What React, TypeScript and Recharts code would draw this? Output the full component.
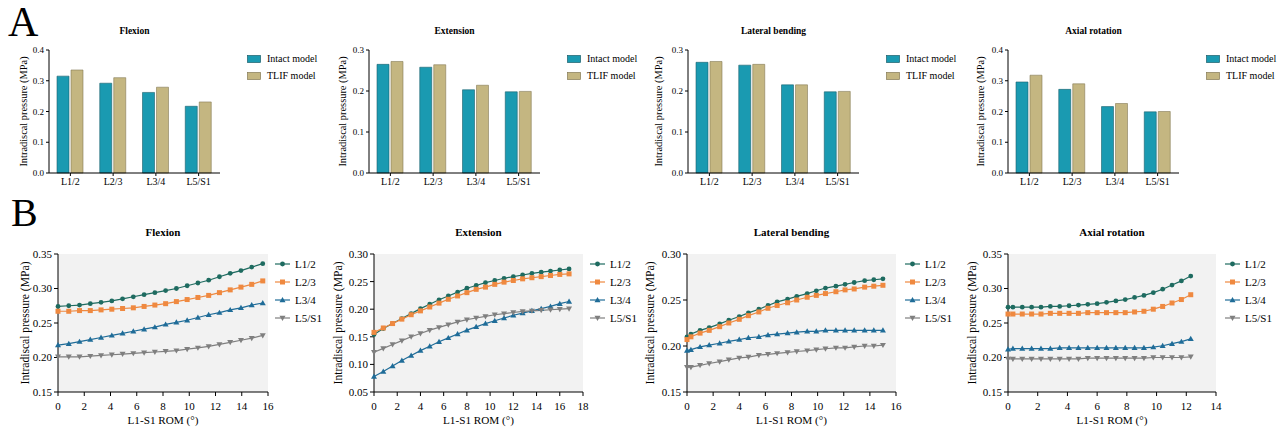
import React from "react";
import { Bar, BarChart, CartesianGrid, Legend, Line, LineChart, XAxis, YAxis } from "recharts";

const serif = '"Liberation Serif", "Times New Roman", serif';

// ---- A: bar charts ----
const levels = ["L1/2", "L2/3", "L3/4", "L5/S1"];

const flexionIntact = [0.315, 0.292, 0.262, 0.217];
const flexionTlif = [0.335, 0.31, 0.279, 0.231];
const extensionIntact = [0.265, 0.258, 0.203, 0.198];
const extensionTlif = [0.272, 0.264, 0.214, 0.199];
const lateralIntact = [0.27, 0.263, 0.215, 0.198];
const lateralTlif = [0.272, 0.265, 0.215, 0.199];
const axialIntact = [0.296, 0.272, 0.216, 0.199];
const axialTlif = [0.318, 0.29, 0.226, 0.2];

const barTicks04 = [0, 0.1, 0.2, 0.3, 0.4];
const barTicks03 = [0, 0.1, 0.2, 0.3];

// ---- B: line charts ----
const flexionRom = [0, 0.82, 1.64, 2.46, 3.28, 4.1, 4.92, 5.74, 6.56, 7.38, 8.2, 9.02, 9.84, 10.66, 11.48, 12.3, 13.12, 13.94, 14.76, 15.6];
const flexionL12 = [0.274, 0.275, 0.276, 0.278, 0.28, 0.282, 0.285, 0.288, 0.291, 0.294, 0.297, 0.3, 0.304, 0.308, 0.312, 0.317, 0.322, 0.326, 0.331, 0.336];
const flexionL23 = [0.267, 0.267, 0.268, 0.268, 0.269, 0.27, 0.271, 0.272, 0.274, 0.276, 0.278, 0.281, 0.284, 0.287, 0.29, 0.294, 0.298, 0.302, 0.306, 0.311];
const flexionL34 = [0.218, 0.22, 0.223, 0.226, 0.229, 0.232, 0.235, 0.238, 0.241, 0.244, 0.248, 0.251, 0.254, 0.258, 0.262, 0.265, 0.269, 0.272, 0.276, 0.279];
const flexionL5S1 = [0.201, 0.201, 0.201, 0.202, 0.203, 0.204, 0.205, 0.206, 0.207, 0.208, 0.209, 0.21, 0.212, 0.214, 0.216, 0.219, 0.222, 0.225, 0.228, 0.232];

const extensionRom = [0, 0.8, 1.6, 2.4, 3.2, 4, 4.8, 5.6, 6.4, 7.2, 8, 8.8, 9.6, 10.4, 11.2, 12, 12.8, 13.6, 14.4, 15.2, 16, 16.8];
const extensionL12 = [0.154, 0.165, 0.174, 0.183, 0.192, 0.201, 0.209, 0.217, 0.224, 0.231, 0.238, 0.243, 0.248, 0.252, 0.256, 0.259, 0.262, 0.265, 0.267, 0.269, 0.271, 0.273];
const extensionL23 = [0.158, 0.166, 0.174, 0.182, 0.19, 0.197, 0.204, 0.211, 0.218, 0.224, 0.23, 0.236, 0.24, 0.245, 0.249, 0.252, 0.255, 0.257, 0.259, 0.261, 0.263, 0.264];
const extensionL34 = [0.078, 0.087, 0.097, 0.107, 0.116, 0.125, 0.133, 0.141, 0.148, 0.155, 0.162, 0.168, 0.174, 0.179, 0.184, 0.189, 0.193, 0.197, 0.201, 0.205, 0.21, 0.214];
const extensionL5S1 = [0.122, 0.129, 0.136, 0.143, 0.15, 0.156, 0.162, 0.167, 0.172, 0.177, 0.181, 0.184, 0.187, 0.19, 0.192, 0.194, 0.196, 0.197, 0.198, 0.199, 0.2, 0.201];

const lateralRom = [0, 0.3, 1.0, 1.7, 2.5, 3.2, 4.0, 4.7, 5.5, 6.2, 6.9, 7.7, 8.4, 9.2, 9.9, 10.6, 11.4, 12.1, 12.8, 13.6, 14.3, 15.0];
const lateralL12 = [0.21, 0.213, 0.217, 0.22, 0.224, 0.228, 0.232, 0.236, 0.24, 0.244, 0.248, 0.251, 0.254, 0.257, 0.26, 0.263, 0.265, 0.267, 0.269, 0.271, 0.272, 0.273];
const lateralL23 = [0.207, 0.21, 0.214, 0.217, 0.221, 0.225, 0.229, 0.233, 0.237, 0.241, 0.244, 0.247, 0.25, 0.253, 0.255, 0.257, 0.259, 0.261, 0.262, 0.264, 0.265, 0.266];
const lateralL34 = [0.195, 0.196, 0.199, 0.201, 0.203, 0.205, 0.207, 0.209, 0.21, 0.212, 0.213, 0.214, 0.215, 0.216, 0.216, 0.217, 0.217, 0.217, 0.217, 0.217, 0.217, 0.217];
const lateralL5S1 = [0.177, 0.177, 0.179, 0.181, 0.183, 0.185, 0.187, 0.188, 0.19, 0.191, 0.192, 0.193, 0.194, 0.195, 0.196, 0.197, 0.198, 0.198, 0.199, 0.2, 0.2, 0.201];

const axialRom = [0, 0.33, 0.96, 1.59, 2.22, 2.85, 3.48, 4.11, 4.74, 5.37, 6.0, 6.63, 7.26, 7.89, 8.52, 9.15, 9.78, 10.41, 11.04, 11.67, 12.3];
const axialL12 = [0.273, 0.273, 0.273, 0.273, 0.273, 0.274, 0.274, 0.275, 0.276, 0.277, 0.278, 0.28, 0.282, 0.284, 0.287, 0.29, 0.294, 0.299, 0.305, 0.311, 0.318];
const axialL23 = [0.263, 0.263, 0.263, 0.263, 0.263, 0.264, 0.264, 0.264, 0.264, 0.265, 0.265, 0.265, 0.265, 0.265, 0.266, 0.267, 0.27, 0.274, 0.279, 0.284, 0.291];
const axialL34 = [0.212, 0.213, 0.213, 0.213, 0.213, 0.213, 0.214, 0.214, 0.214, 0.214, 0.214, 0.214, 0.214, 0.214, 0.214, 0.214, 0.215, 0.217, 0.22, 0.223, 0.227];
const axialL5S1 = [0.198, 0.198, 0.198, 0.198, 0.198, 0.198, 0.198, 0.198, 0.198, 0.199, 0.199, 0.199, 0.199, 0.199, 0.199, 0.199, 0.2, 0.2, 0.2, 0.2, 0.201];

const romTicks14 = [0, 2, 4, 6, 8, 10, 12, 14];
const romTicks16 = [0, 2, 4, 6, 8, 10, 12, 14, 16];
const romTicks18 = [0, 2, 4, 6, 8, 10, 12, 14, 16, 18];
const pressureTicks15 = [0.15, 0.2, 0.25, 0.3, 0.35];
const pressureTicks05 = [0.05, 0.1, 0.15, 0.2, 0.25, 0.3];

const barSeries = [
  { key: "intact", name: "Intact model", fill: "#1a9ab1", stroke: "#1b5f6c" },
  { key: "tlif", name: "TLIF model", fill: "#c4b681", stroke: "#857a55" },
];

const lineSeries = [
  { key: "l12", name: "L1/2", color: "#1e6b60", shape: "circle" },
  { key: "l23", name: "L2/3", color: "#ef8940", shape: "square" },
  { key: "l34", name: "L3/4", color: "#1f6c98", shape: "up" },
  { key: "l5s1", name: "L5/S1", color: "#7f7f7f", shape: "down" },
];

function barRows(intact: number[], tlif: number[]) {
  return levels.map((level, i) => ({ level, intact: intact[i], tlif: tlif[i] }));
}

function lineRows(rom: number[], a: number[], b: number[], c: number[], d: number[]) {
  return rom.map((x, i) => ({ rom: x, l12: a[i], l23: b[i], l34: c[i], l5s1: d[i] }));
}

function Marker({ shape, cx, cy, color }: { shape: string; cx: number; cy: number; color: string }) {
  if (cx == null || cy == null) return null;
  if (shape === "circle") return <circle cx={cx} cy={cy} r={2.4} fill={color} />;
  if (shape === "square") return <rect x={cx - 2.5} y={cy - 2.5} width={5} height={5} fill={color} />;
  if (shape === "up")
    return <polygon points={`${cx},${cy - 3} ${cx - 3},${cy + 2.2} ${cx + 3},${cy + 2.2}`} fill={color} />;
  return <polygon points={`${cx},${cy + 3} ${cx - 3},${cy - 2.2} ${cx + 3},${cy - 2.2}`} fill={color} />;
}

function BarLegend() {
  return (
    <div style={{ fontFamily: serif, fontSize: 10, color: "#000" }}>
      {barSeries.map((s) => (
        <div key={s.key} style={{ display: "flex", alignItems: "center", height: 17 }}>
          <svg width={14} height={8}>
            <rect x={0.5} y={0.5} width={13} height={7} fill={s.fill} stroke={s.stroke} strokeWidth={0.7} />
          </svg>
          <span style={{ marginLeft: 6 }}>{s.name}</span>
        </div>
      ))}
    </div>
  );
}

function LineLegend() {
  return (
    <div style={{ fontFamily: serif, fontSize: 11, color: "#000" }}>
      {lineSeries.map((s) => (
        <div key={s.key} style={{ display: "flex", alignItems: "center", height: 18, whiteSpace: "nowrap" }}>
          <svg width={15} height={8}>
            <line x1={0} y1={4} x2={15} y2={4} stroke={s.color} strokeWidth={1.2} />
            <Marker shape={s.shape} cx={7.5} cy={4} color={s.color} />
          </svg>
          <span style={{ marginLeft: 5 }}>{s.name}</span>
        </div>
      ))}
    </div>
  );
}

function BarPanel({
  left, title, data, yMax, ticks, labelX,
}: { left: number; title: string; data: any[]; yMax: number; ticks: number[]; labelX: number }) {
  return (
    <div style={{ position: "absolute", left, top: 0, width: 320, height: 190 }}>
      <div style={{ position: "absolute", left: 49, width: 171, top: 26, textAlign: "center", fontFamily: serif, fontWeight: "bold", fontSize: 9.5 }}>
        {title}
      </div>
      <BarChart width={320} height={190} data={data} margin={{ top: 50, right: 100, bottom: 0, left: 0 }} barSize={12} barGap={2}>
        <XAxis
          dataKey="level"
          height={17}
          interval={0}
          tickSize={3}
          tickMargin={2}
          tick={{ fontSize: 10, fill: "#000", fontFamily: serif }}
          axisLine={{ stroke: "#000" }}
          tickLine={{ stroke: "#000" }}
        />
        <YAxis
          width={49}
          domain={[0, yMax]}
          ticks={ticks}
          tickFormatter={(v: number) => v.toFixed(1)}
          tickSize={3}
          tickMargin={2}
          tick={{ fontSize: 9, fill: "#000", fontFamily: serif }}
          axisLine={{ stroke: "#000" }}
          tickLine={{ stroke: "#000" }}
          label={{
            value: "Intradiscal pressure (MPa)",
            angle: -90,
            position: "insideLeft",
            offset: labelX,
            style: { textAnchor: "middle", fontSize: 10.4, fill: "#000", fontFamily: serif },
          }}
        />
        {barSeries.map((s) => (
          <Bar key={s.key} dataKey={s.key} name={s.name} fill={s.fill} stroke={s.stroke} strokeWidth={0.6} isAnimationActive={false} />
        ))}
        <Legend
          layout="vertical"
          align="center"
          verticalAlign="middle"
          content={() => <BarLegend />}
          wrapperStyle={{ left: 247, top: 50, width: 80 }}
        />
      </BarChart>
    </div>
  );
}

function LinePanel({
  left, width, yAxisWidth, plotWidth, title, data, xMax, xTicks, yMin, yMax, yTicks, labelX, legendLeft,
}: {
  left: number; width: number; yAxisWidth: number; plotWidth: number; title: string; data: any[];
  xMax: number; xTicks: number[]; yMin: number; yMax: number; yTicks: number[]; labelX: number; legendLeft: number;
}) {
  const right = width - yAxisWidth - plotWidth;
  return (
    <div style={{ position: "absolute", left, top: 190, width, height: 241 }}>
      <div style={{ position: "absolute", left: yAxisWidth, width: plotWidth, top: 36, textAlign: "center", fontFamily: serif, fontWeight: "bold", fontSize: 11 }}>
        {title}
      </div>
      <LineChart width={width} height={241} data={data} margin={{ top: 64, right, bottom: 0, left: 0 }}>
        <CartesianGrid fill="#f2f2f2" horizontal={false} vertical={false} />
        <XAxis
          type="number"
          dataKey="rom"
          domain={[0, xMax]}
          ticks={xTicks}
          height={39}
          tickSize={4}
          tickMargin={6}
          tick={{ fontSize: 11, fill: "#000", fontFamily: serif }}
          axisLine={{ stroke: "#000" }}
          tickLine={{ stroke: "#000" }}
          label={{
            value: "L1-S1 ROM (°)",
            position: "insideBottom",
            offset: 7,
            style: { fontSize: 11.2, fill: "#000", fontFamily: serif },
          }}
        />
        <YAxis
          width={yAxisWidth}
          domain={[yMin, yMax]}
          ticks={yTicks}
          tickFormatter={(v: number) => v.toFixed(2)}
          tickSize={4}
          tickMargin={2}
          tick={{ fontSize: 11, fill: "#000", fontFamily: serif }}
          axisLine={{ stroke: "#000" }}
          tickLine={{ stroke: "#000" }}
          label={{
            value: "Intradiscal pressure (MPa)",
            angle: -90,
            position: "insideLeft",
            offset: labelX,
            style: { textAnchor: "middle", fontSize: 11.6, fill: "#000", fontFamily: serif },
          }}
        />
        {lineSeries.map((s) => (
          <Line
            key={s.key}
            type="linear"
            dataKey={s.key}
            name={s.name}
            stroke={s.color}
            strokeWidth={1.2}
            isAnimationActive={false}
            dot={(p: any) => <Marker key={`${s.key}-${p.index}`} shape={s.shape} cx={p.cx} cy={p.cy} color={s.color} />}
            activeDot={false}
          />
        ))}
        <Legend
          layout="vertical"
          align="center"
          verticalAlign="middle"
          content={() => <LineLegend />}
          wrapperStyle={{ left: legendLeft, top: 65, width: 70 }}
        />
      </LineChart>
    </div>
  );
}

export default function App() {
  return (
    <div style={{ position: "absolute", left: 0, top: 0, width: 1282, height: 431, background: "#fff", overflow: "hidden" }}>
      <div style={{ position: "absolute", left: 8, top: 1, fontFamily: serif, fontSize: 42, lineHeight: 1 }}>A</div>
      <div style={{ position: "absolute", left: 11, top: 193, fontFamily: serif, fontSize: 40, lineHeight: 1 }}>B</div>

      <BarPanel left={0} title="Flexion" data={barRows(flexionIntact, flexionTlif)} yMax={0.4} ticks={barTicks04} labelX={23} />
      <BarPanel left={320} title="Extension" data={barRows(extensionIntact, extensionTlif)} yMax={0.3} ticks={barTicks03} labelX={22} />
      <BarPanel left={639} title="Lateral bending" data={barRows(lateralIntact, lateralTlif)} yMax={0.3} ticks={barTicks03} labelX={19} />
      <BarPanel left={959} title="Axial rotation" data={barRows(axialIntact, axialTlif)} yMax={0.4} ticks={barTicks04} labelX={21} />

      <LinePanel
        left={0} width={320} yAxisWidth={58} plotWidth={210} title="Flexion"
        data={lineRows(flexionRom, flexionL12, flexionL23, flexionL34, flexionL5S1)}
        xMax={16} xTicks={romTicks16} yMin={0.15} yMax={0.35} yTicks={pressureTicks15} labelX={25} legendLeft={275}
      />
      <LinePanel
        left={320} width={314} yAxisWidth={54} plotWidth={209} title="Extension"
        data={lineRows(extensionRom, extensionL12, extensionL23, extensionL34, extensionL5S1)}
        xMax={18} xTicks={romTicks18} yMin={0.05} yMax={0.3} yTicks={pressureTicks05} labelX={18} legendLeft={270}
      />
      <LinePanel
        left={637} width={320} yAxisWidth={50} plotWidth={209} title="Lateral bending"
        data={lineRows(lateralRom, lateralL12, lateralL23, lateralL34, lateralL5S1)}
        xMax={16} xTicks={romTicks16} yMin={0.15} yMax={0.3} yTicks={pressureTicks15.slice(0, 4)} labelX={13} legendLeft={268}
      />
      <LinePanel
        left={957} width={325} yAxisWidth={51} plotWidth={208} title="Axial rotation"
        data={lineRows(axialRom, axialL12, axialL23, axialL34, axialL5S1)}
        xMax={14} xTicks={romTicks14} yMin={0.15} yMax={0.35} yTicks={pressureTicks15} labelX={15} legendLeft={268}
      />
    </div>
  );
}
